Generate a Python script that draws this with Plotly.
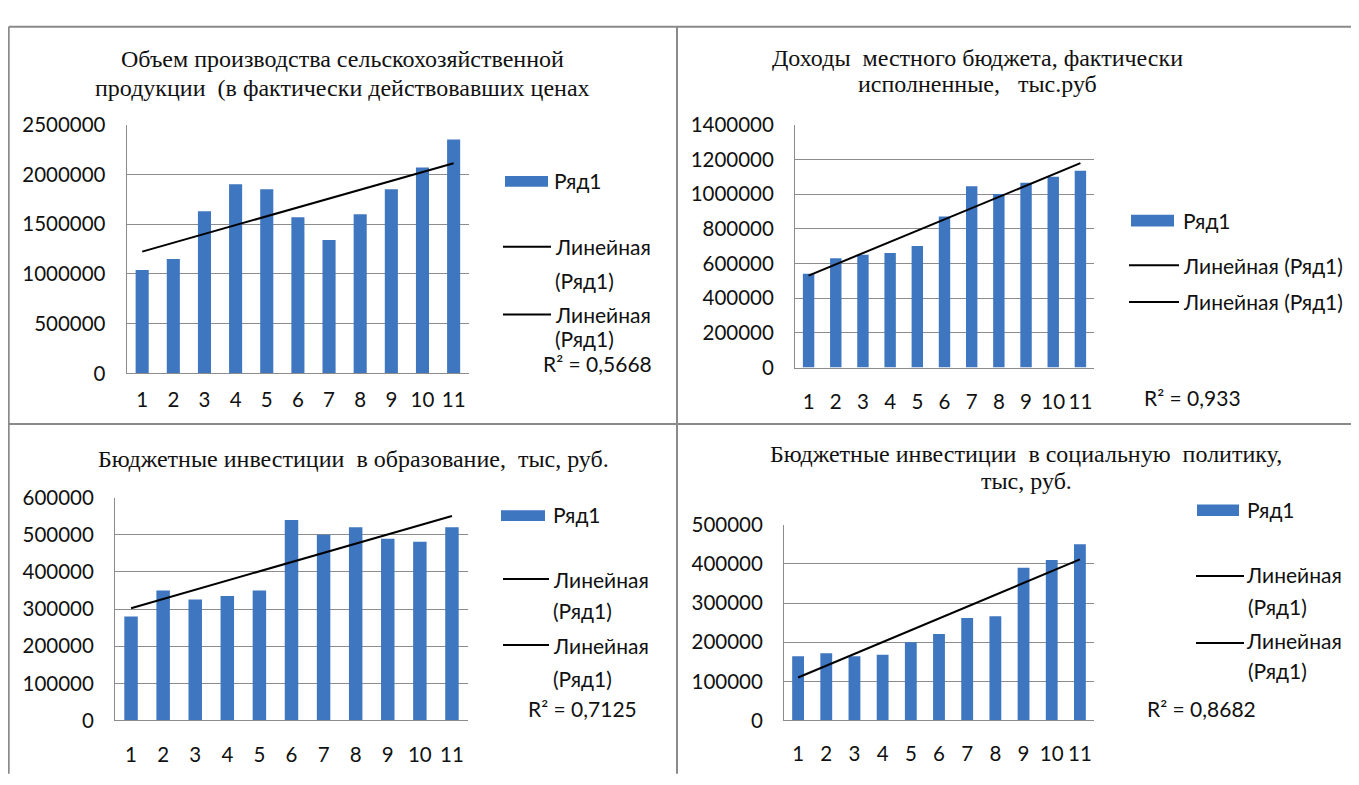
import numpy as np
import plotly.graph_objects as go

# The page body has an 8px margin, so the figure is drawn 8px in from the
# top-left corner; the figure is sized so the page fits the 1359x785 window.
OFF = 8
W, H = 1359 - 2 * OFF, 785 - 2 * OFF

# ---------------- data ----------------
categories = [1, 2, 3, 4, 5, 6, 7, 8, 9, 10, 11]
agri_output = [1040000, 1150000, 1630000, 1900000, 1850000, 1570000,
               1340000, 1600000, 1850000, 2070000, 2350000]
budget_income = [540000, 630000, 650000, 660000, 700000, 870000,
                 1045000, 1000000, 1065000, 1100000, 1135000]
edu_invest = [280000, 350000, 326000, 335000, 350000, 540000,
              500000, 520000, 489000, 481000, 520000]
social_invest = [164000, 172000, 164000, 168000, 200000, 221000,
                 262000, 266000, 390000, 410000, 450000]

title_lines = [
    ["Объем производства сельскохозяйственной",
     "продукции  (в фактически действовавших ценах"],
    ["Доходы  местного бюджета, фактически",
     "исполненные,   тыс.руб"],
    ["Бюджетные инвестиции  в образование,  тыс, руб."],
    ["Бюджетные инвестиции  в социальную  политику,",
     "тыс, руб."],
]
r2_labels = ["R² = 0,5668", "R² = 0,933", "R² = 0,7125", "R² = 0,8682"]
y_max = [2500000, 1400000, 600000, 500000]
y_step = [500000, 200000, 100000, 100000]
series_name = "Ряд1"
trend_word = "Линейная"
trend_paren = "(Ряд1)"
trend_full = "Линейная (Ряд1)"

series = [agri_output, budget_income, edu_invest, social_invest]

# ---------------- styling / layout ----------------
BAR = "#3f76c0"
GRID = "#8c8c8c"
SANS = "Lato, 'Open Sans', sans-serif"
SERIF = "'Liberation Serif', 'Times New Roman', serif"
TXT = "#111111"
TICK_SIZE = 20.5
LEG_SIZE = 21
TITLE_SIZE = 24


def fx(x):
    return (x - OFF) / W


def fy(y):
    return 1 - (y - OFF) / H


# plot areas in window pixels: (left, right, top, bottom)
areas = [
    (126.6, 469.2, 115, 371.7),
    (795, 1094, 115, 365.7),
    (115, 468, 500, 730),
    (784, 1094, 528, 730),
]
x_ticklen = [8, 16, 16, 15]

# title positions: (center x, [line y...])
title_pos = [
    (342, [47, 77]),
    (977, [46, 73]),
    (353, [460]),
    (1026, [455, 483]),
]

# legend layout
legend_specs = [
    dict(bar=(505, 548, 168, 179), bar_text=(552, 173),
         lines=[(503, 551, 241, [(553, 241, trend_word), (553, 276, trend_paren)]),
                (503, 551, 311, [(553, 311, trend_word), (553, 336, trend_paren)])],
         r2=(597, 362, "center")),
    dict(bar=(1131, 1174, 208, 220), bar_text=(1181, 214),
         lines=[(1129, 1179, 260, [(1181, 260, trend_full)]),
                (1129, 1179, 298, [(1181, 298, trend_full)])],
         r2=(1142, 397, "left")),
    dict(bar=(501, 545, 513, 524), bar_text=(551, 517),
         lines=[(503, 549, 584, [(551, 584, trend_word), (551, 617, trend_paren)]),
                (503, 549, 652, [(551, 653, trend_word), (551, 687, trend_paren)])],
         r2=(582, 718, "center")),
    dict(bar=(1197, 1239, 507, 519), bar_text=(1245, 512),
         lines=[(1196, 1244, 581, [(1244, 579, trend_word), (1246, 612, trend_paren)]),
                (1196, 1244, 650, [(1244, 647, trend_word), (1246, 678, trend_paren)])],
         r2=(1145, 718, "left")),
]

fig = go.Figure()
annotations = []
shapes = []

for i, vals in enumerate(series):
    n = "" if i == 0 else str(i + 1)
    xa, ya = "x" + n, "y" + n
    fig.add_trace(go.Bar(x=categories, y=vals, width=0.42, name=series_name,
                         marker=dict(color=BAR, line=dict(width=0)),
                         xaxis=xa, yaxis=ya, showlegend=False))
    coef = np.polyfit(categories, vals, 1)
    xt = np.array([categories[0], categories[-1]], dtype=float)
    fig.add_trace(go.Scatter(x=xt, y=np.polyval(coef, xt), mode="lines",
                             name=trend_full, line=dict(color="black", width=2),
                             xaxis=xa, yaxis=ya, showlegend=False))

    l, r, t, b = areas[i]
    fig.layout["xaxis" + n] = dict(
        domain=[fx(l), fx(r)], anchor=ya, range=[0.5, 11.5],
        tickmode="array", tickvals=categories, ticktext=[str(c) for c in categories],
        showgrid=False, zeroline=False, showline=True, linecolor=GRID, linewidth=1,
        ticks="outside", ticklen=x_ticklen[i], tickcolor="rgba(0,0,0,0)",
        tickfont=dict(family=SANS, size=TICK_SIZE, color=TXT), fixedrange=True)
    fig.layout["yaxis" + n] = dict(
        domain=[fy(b), fy(t)], anchor=xa, range=[0, y_max[i]], dtick=y_step[i],
        tick0=0, tickformat="d", showgrid=True, gridcolor=GRID, gridwidth=1,
        zeroline=False, showline=True, linecolor=GRID, linewidth=1,
        ticks="outside", ticklen=16, tickcolor="rgba(0,0,0,0)",
        tickfont=dict(family=SANS, size=TICK_SIZE, color=TXT), fixedrange=True)

    # titles
    cx, ys = title_pos[i]
    for line, yy in zip(title_lines[i], ys):
        annotations.append(dict(text=line, x=fx(cx), y=fy(yy), xref="paper", yref="paper",
                                xanchor="center", yanchor="middle", showarrow=False,
                                font=dict(family=SERIF, size=TITLE_SIZE, color=TXT)))

    # legend
    spec = legend_specs[i]
    x0, x1, y0, y1 = spec["bar"]
    shapes.append(dict(type="rect", xref="paper", yref="paper", x0=fx(x0), x1=fx(x1),
                       y0=fy(y1), y1=fy(y0), fillcolor=BAR, line=dict(width=0)))
    bx, by = spec["bar_text"]
    annotations.append(dict(text=series_name, x=fx(bx), y=fy(by), xref="paper", yref="paper",
                            xanchor="left", yanchor="middle", showarrow=False,
                            font=dict(family=SANS, size=LEG_SIZE, color=TXT)))
    for (lx0, lx1, ly, texts) in spec["lines"]:
        shapes.append(dict(type="line", xref="paper", yref="paper", x0=fx(lx0), x1=fx(lx1),
                           y0=fy(ly), y1=fy(ly), line=dict(color="black", width=2)))
        for (tx, ty, tt) in texts:
            annotations.append(dict(text=tt, x=fx(tx), y=fy(ty), xref="paper", yref="paper",
                                    xanchor="left", yanchor="middle", showarrow=False,
                                    font=dict(family=SANS, size=LEG_SIZE, color=TXT)))
    rx, ry, ranchor = spec["r2"]
    annotations.append(dict(text=r2_labels[i], x=fx(rx), y=fy(ry), xref="paper", yref="paper",
                            xanchor=ranchor, yanchor="middle", showarrow=False,
                            font=dict(family=SANS, size=LEG_SIZE, color=TXT)))

# panel borders (window pixel coordinates)
BORDER = "#8a8a8a"
for (a, b_, c, d) in [(8.7, 14, 1359, 14), (8.7, 14, 8.7, 785),
                      (677, 14, 677, 785), (8.7, 424, 1359, 424)]:
    shapes.append(dict(type="line", xref="paper", yref="paper", x0=fx(a), y0=fy(b_),
                       x1=fx(c), y1=fy(d), line=dict(color=BORDER, width=2), layer="below"))

fig.update_layout(width=W, height=H, margin=dict(l=0, r=0, t=0, b=0, pad=0),
                  paper_bgcolor="white", plot_bgcolor="white",
                  showlegend=False, annotations=annotations, shapes=shapes)

fig.write_html("out.html", config={"displayModeBar": False})
